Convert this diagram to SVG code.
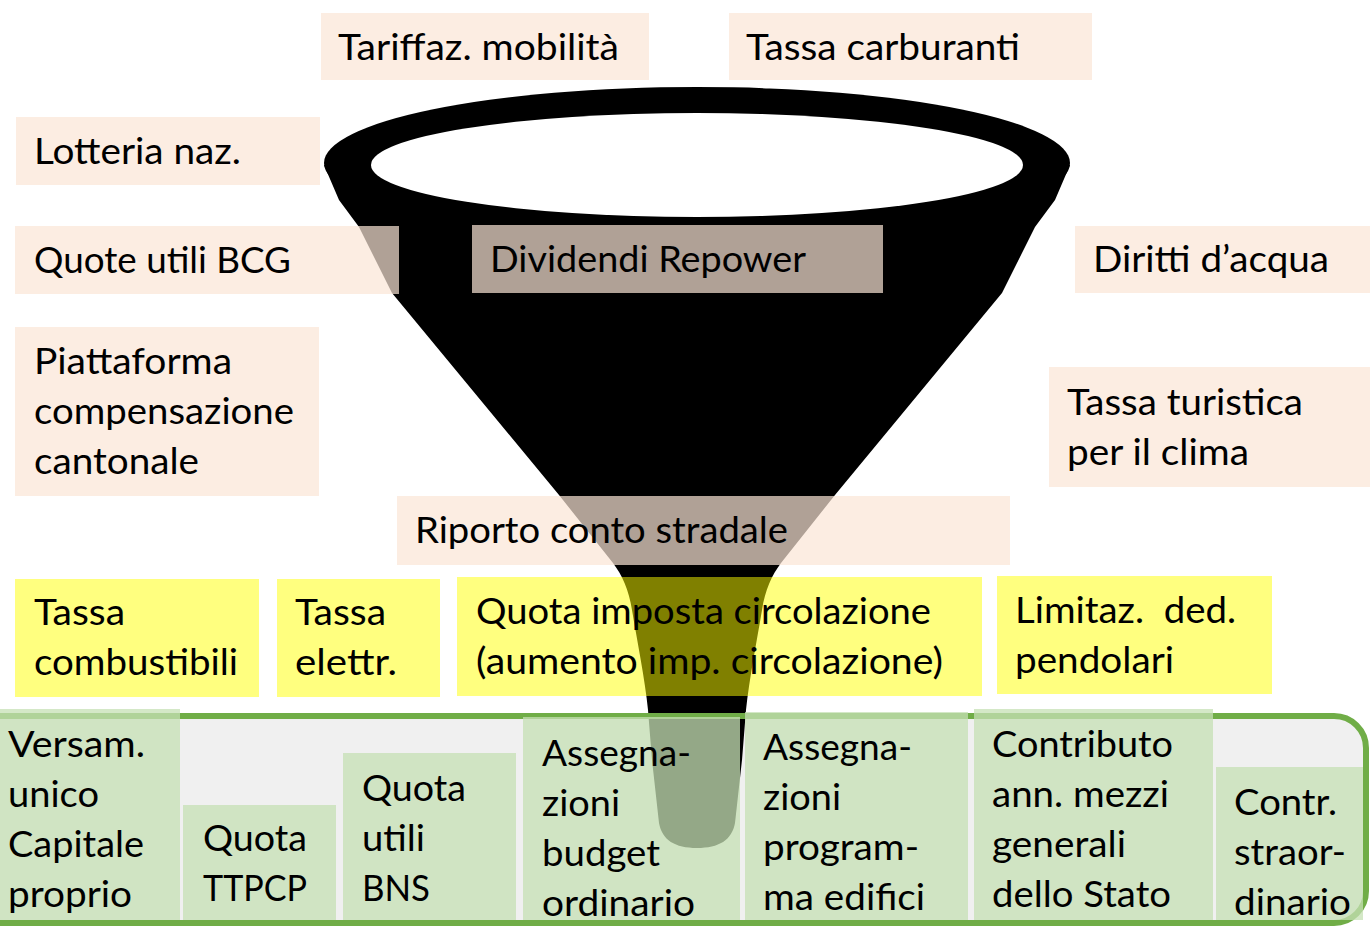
<svg xmlns="http://www.w3.org/2000/svg" width="1370" height="927" viewBox="0 0 1370 927">
<style>
text{font-family:Lato,"Open Sans","Liberation Sans",sans-serif;font-size:37px;fill:#000;}
.peach{fill:#FBE5D6;fill-opacity:0.7;}
.yellow{fill:#FFFF00;fill-opacity:0.5;}
.cell{fill:#C5E0B4;fill-opacity:0.75;}
</style>
<rect width="1370" height="927" fill="#fff"/>
<!-- bar background -->
<rect id="bar-bg" x="-40" y="716" width="1406" height="207" rx="32" fill="#F0F0F0"/>
<!-- funnel -->
<g id="funnel">
<ellipse cx="697" cy="163" rx="373" ry="76" fill="#000"/>
<path d="M324,165 L339,200 L359,227 L392,293 L559,495 L613,563 C622,575 629,590 632,610 C637,640 645,680 648,710 L652,760 L659,823 C662,840 675,848 697,848 C719,848 732,840 735,823 L742,760 L746,710 C749,680 757,640 762,610 C765,590 772,575 781,563 L835,495 L1002,293 L1035,227 L1055,200 L1070,165 Z" fill="#000"/>
<ellipse cx="697" cy="165" rx="326" ry="52" fill="#fff"/>
</g>
<rect id="bar" x="-40" y="716" width="1406" height="207" rx="32" fill="none" stroke="#70AD47" stroke-width="6"/>
<!-- peach boxes -->
<g id="tariffaz"><rect class="peach" x="321" y="13" width="328" height="67"/><text x="338" y="60" textLength="281" lengthAdjust="spacingAndGlyphs">Tariffaz. mobilità</text></g>
<g id="carburanti"><rect class="peach" x="729" y="13" width="363" height="67"/><text x="746" y="60" textLength="274" lengthAdjust="spacingAndGlyphs">Tassa carburanti</text></g>
<g id="lotteria"><rect class="peach" x="16" y="117" width="304" height="68"/><text x="34" y="164" textLength="207" lengthAdjust="spacingAndGlyphs">Lotteria naz.</text></g>
<g id="bcg"><rect class="peach" x="15" y="226" width="384" height="68"/><text x="34" y="273" textLength="257" lengthAdjust="spacingAndGlyphs">Quote utili BCG</text></g>
<g id="repower"><rect class="peach" x="472" y="225" width="411" height="68"/><text x="490" y="272" textLength="316" lengthAdjust="spacingAndGlyphs">Dividendi Repower</text></g>
<g id="diritti"><rect class="peach" x="1075" y="226" width="300" height="67"/><text x="1093" y="272" textLength="236" lengthAdjust="spacingAndGlyphs">Diritti d’acqua</text></g>
<g id="piattaforma"><rect class="peach" x="15" y="327" width="304" height="169"/>
<text x="34" y="374" textLength="198" lengthAdjust="spacingAndGlyphs">Piattaforma</text>
<text x="34" y="424" textLength="260" lengthAdjust="spacingAndGlyphs">compensazione</text>
<text x="34" y="474" textLength="165" lengthAdjust="spacingAndGlyphs">cantonale</text></g>
<g id="turistica"><rect class="peach" x="1049" y="367" width="326" height="120"/>
<text x="1067" y="415" textLength="236" lengthAdjust="spacingAndGlyphs">Tassa turistica</text>
<text x="1067" y="465" textLength="182" lengthAdjust="spacingAndGlyphs">per il clima</text></g>
<g id="riporto"><rect class="peach" x="397" y="496" width="613" height="69"/><text x="415" y="543" textLength="373" lengthAdjust="spacingAndGlyphs">Riporto conto stradale</text></g>
<!-- yellow boxes -->
<g id="combustibili"><rect class="yellow" x="15" y="579" width="244" height="118"/>
<text x="34" y="625" textLength="91" lengthAdjust="spacingAndGlyphs">Tassa</text>
<text x="34" y="675" textLength="204" lengthAdjust="spacingAndGlyphs">combustibili</text></g>
<g id="elettr"><rect class="yellow" x="277" y="579" width="163" height="118"/>
<text x="295" y="625" textLength="91" lengthAdjust="spacingAndGlyphs">Tassa</text>
<text x="295" y="675" textLength="102" lengthAdjust="spacingAndGlyphs">elettr.</text></g>
<g id="circolazione"><rect class="yellow" x="457" y="577" width="525" height="119"/>
<text x="476" y="624" textLength="455" lengthAdjust="spacingAndGlyphs">Quota imposta circolazione</text>
<text x="476" y="674" textLength="467" lengthAdjust="spacingAndGlyphs">(aumento imp. circolazione)</text></g>
<g id="pendolari"><rect class="yellow" x="997" y="576" width="275" height="118"/>
<text x="1015" y="623" textLength="221" lengthAdjust="spacingAndGlyphs" style="white-space:pre">Limitaz.  ded.</text>
<text x="1015" y="673" textLength="159" lengthAdjust="spacingAndGlyphs">pendolari</text></g>
<!-- green cells -->
<g id="versam"><rect class="cell" x="0" y="709" width="180" height="211"/>
<text x="8" y="757" textLength="137" lengthAdjust="spacingAndGlyphs">Versam.</text>
<text x="8" y="807" textLength="91" lengthAdjust="spacingAndGlyphs">unico</text>
<text x="8" y="857" textLength="136" lengthAdjust="spacingAndGlyphs">Capitale</text>
<text x="8" y="907" textLength="124" lengthAdjust="spacingAndGlyphs">proprio</text></g>
<g id="ttpcp"><rect class="cell" x="183" y="805" width="153" height="115"/>
<text x="203" y="851" textLength="104" lengthAdjust="spacingAndGlyphs">Quota</text>
<text x="203" y="901" textLength="104" lengthAdjust="spacingAndGlyphs">TTPCP</text></g>
<g id="bns"><rect class="cell" x="343" y="753" width="173" height="167"/>
<text x="362" y="801" textLength="104" lengthAdjust="spacingAndGlyphs">Quota</text>
<text x="362" y="851" textLength="63" lengthAdjust="spacingAndGlyphs">utili</text>
<text x="362" y="901" textLength="68" lengthAdjust="spacingAndGlyphs">BNS</text></g>
<g id="budget"><rect class="cell" x="523" y="717" width="217" height="203"/>
<text x="542" y="766" textLength="149" lengthAdjust="spacingAndGlyphs">Assegna-</text>
<text x="542" y="816" textLength="78" lengthAdjust="spacingAndGlyphs">zioni</text>
<text x="542" y="866" textLength="118" lengthAdjust="spacingAndGlyphs">budget</text>
<text x="542" y="916" textLength="153" lengthAdjust="spacingAndGlyphs">ordinario</text></g>
<g id="edifici"><rect class="cell" x="745" y="712" width="223" height="208"/>
<text x="763" y="760" textLength="149" lengthAdjust="spacingAndGlyphs">Assegna-</text>
<text x="763" y="810" textLength="78" lengthAdjust="spacingAndGlyphs">zioni</text>
<text x="763" y="860" textLength="156" lengthAdjust="spacingAndGlyphs">program-</text>
<text x="763" y="910" textLength="162" lengthAdjust="spacingAndGlyphs">ma edifici</text></g>
<g id="contributo"><rect class="cell" x="974" y="709" width="239" height="211"/>
<text x="992" y="757" textLength="181" lengthAdjust="spacingAndGlyphs">Contributo</text>
<text x="992" y="807" textLength="177" lengthAdjust="spacingAndGlyphs">ann. mezzi</text>
<text x="992" y="857" textLength="134" lengthAdjust="spacingAndGlyphs">generali</text>
<text x="992" y="907" textLength="179" lengthAdjust="spacingAndGlyphs">dello Stato</text></g>
<g id="straordinario"><rect class="cell" x="1216" y="767" width="147" height="153"/>
<text x="1234" y="815" textLength="103" lengthAdjust="spacingAndGlyphs">Contr.</text>
<text x="1234" y="865" textLength="112" lengthAdjust="spacingAndGlyphs">straor-</text>
<text x="1234" y="915" textLength="117" lengthAdjust="spacingAndGlyphs">dinario</text></g>
</svg>
